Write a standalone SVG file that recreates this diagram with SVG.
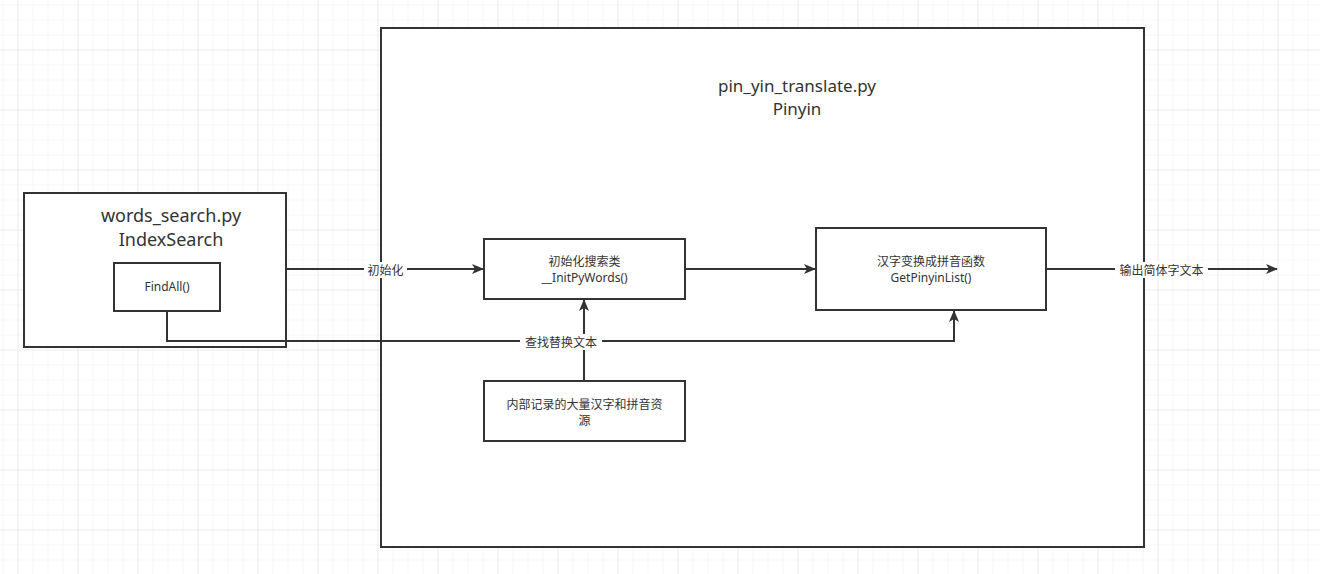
<svg xmlns="http://www.w3.org/2000/svg" width="1320" height="574" viewBox="0 0 1320 574">
<defs>
<pattern id="minor" width="15" height="15" patternUnits="userSpaceOnUse" x="2.5" y="4.5">
<path d="M0 0 H15 M0 0 V15" fill="none" stroke="#f0f0f0" stroke-width="1"/>
</pattern>
<pattern id="major" width="60" height="60" patternUnits="userSpaceOnUse" x="17.5" y="49.5">
<path d="M0 0 H60 M0 0 V60" fill="none" stroke="#e2e2e2" stroke-width="1"/>
</pattern>
<marker id="arr" markerWidth="12" markerHeight="10" refX="11" refY="5" orient="auto" markerUnits="userSpaceOnUse">
<path d="M0 0 L12 5 L0 10 L3 5 Z" fill="#333"/>
</marker>
<style>
.box{fill:#fff;stroke:#333;stroke-width:2}
.ln{fill:none;stroke:#333;stroke-width:2}
.t{font-family:"Noto Sans","Noto Sans CJK SC",sans-serif;fill:#333;text-anchor:middle}
.big{font-size:18px}
.mid{font-size:17px}
.sm{font-size:12px}
.lbl{fill:#fff}
</style>
</defs>
<rect width="1320" height="574" fill="#fff"/>
<rect width="1320" height="574" fill="url(#minor)"/>
<rect width="1320" height="574" fill="url(#major)"/>

<g id="pinyin-container">
<rect class="box" x="381" y="28" width="763" height="519"/>
<text class="t mid" x="797" y="92">pin_yin_translate.py</text>
<text class="t mid" x="797" y="115">Pinyin</text>
</g>

<g id="words-search">
<rect class="box" x="24" y="193" width="262" height="154"/>
<text class="t big" x="171" y="222">words_search.py</text>
<text class="t big" x="171" y="246">IndexSearch</text>
</g>

<g id="connectors">
<path class="ln" d="M286 269 H483" marker-end="url(#arr)"/>
<path class="ln" d="M685 269 H815" marker-end="url(#arr)"/>
<path class="ln" d="M1046 269 H1277" marker-end="url(#arr)"/>
<path class="ln" d="M167 311 V341 H954 V311" marker-end="url(#arr)"/>
<path class="ln" d="M584 381 V300" marker-end="url(#arr)"/>
<rect class="lbl" x="364" y="262" width="43" height="16"/>
<text class="t sm" x="385.5" y="274.5">初始化</text>
<rect class="lbl" x="520" y="334" width="82" height="16"/>
<text class="t sm" x="561" y="346.5">查找替换文本</text>
<rect class="lbl" x="1115" y="262" width="93" height="16"/>
<text class="t sm" x="1161.5" y="274.5">输出简体字文本</text>
</g>

<g id="findall">
<rect class="box" x="114" y="263" width="106" height="48"/>
<text class="t sm" x="167" y="291">FindAll()</text>
</g>

<g id="init-class">
<rect class="box" x="484" y="239" width="201" height="60"/>
<text class="t sm" x="584.5" y="266">初始化搜索类</text>
<text class="t sm" x="584.5" y="282">__InitPyWords()</text>
</g>

<g id="get-pinyin">
<rect class="box" x="816" y="228" width="230" height="82"/>
<text class="t sm" x="931" y="266">汉字变换成拼音函数</text>
<text class="t sm" x="931" y="282">GetPinyinList()</text>
</g>

<g id="resources">
<rect class="box" x="484" y="381" width="201" height="60"/>
<text class="t sm" x="584.5" y="409">内部记录的大量汉字和拼音资</text>
<text class="t sm" x="584.5" y="425">源</text>
</g>
</svg>
